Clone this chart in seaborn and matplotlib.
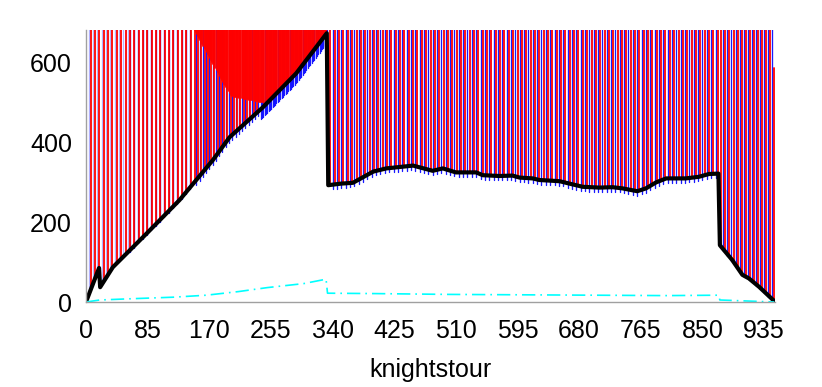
import numpy as np
import pandas as pd
import matplotlib
matplotlib.use("Agg")
import matplotlib.pyplot as plt
import seaborn as sns

# ---- data -------------------------------------------------------------
# lower envelope of the spikes (thick black line)
env_x = [0, 18, 19.5, 37, 84, 129, 175, 198, 244, 290, 332, 334, 352, 368,
         396, 414, 451, 478, 492, 510, 538, 547, 570, 588, 598, 616, 625, 653,
         671, 685, 708, 726, 740, 760, 772, 786, 800, 827, 845, 859, 872, 874,
         891, 905, 914, 928, 948]
env_y = [0, 85, 37, 87, 172, 255, 355, 412, 487, 572, 672, 292, 296, 298,
         326, 334, 341, 328, 334, 324, 324, 317, 315, 316, 311, 309, 305, 302,
         294, 288, 286, 287, 284, 277, 284, 299, 309, 309, 313, 320, 321, 142,
         105, 68, 59, 38, 4]

# lower edge of the dense (solid) red wedge before the drop at 334
wedge_x = [150, 165, 200, 250, 290, 332]
wedge_y = [680, 630, 515, 497, 572, 672]

# cyan dash-dot series
cyan_x = [0, 19, 60, 120, 166, 210, 250, 300, 331, 333, 400, 500, 600, 700,
          800, 872, 874, 949]
cyan_y = [0, 5, 8, 12, 17, 26, 36, 46, 57, 22, 21, 19, 18, 17, 16, 17, 5, 0]

# spike regions: (first x, last x, spacing between spikes)
red_regions = [(0.5, 150, 6.0), (150, 240, 4.5), (337, 874, 6.0),
               (876, 948, 5.6)]
blue_regions = [(60, 150, 6.0), (152.2, 240, 4.5), (241, 333, 1.8),
                (340, 874, 6.0), (878.8, 948, 5.6)]
blue_depth = [4, 12, 25, 11, 4]      # how far the blue spikes reach below the envelope
faint_blue_region = [(3.5, 60, 6.0)]  # pale blue strokes between the first red spikes
wedge_step = 1.5
spike_top = 1500                       # spikes leave the visible range
last_spike_x = 949
last_spike_top = 585

xticks = [0, 85, 170, 255, 340, 425, 510, 595, 680, 765, 850, 935]
yticks = [0, 200, 400, 600]
xlabel = "knightstour"


def spike_rows(regions, depths, lx, ly, uid=0):
    rows = []
    for (a, b, step), d in zip(regions, depths):
        xs = np.arange(a, b, step)
        lows = np.interp(xs, lx, ly) - d
        for x, lo in zip(xs, lows):
            rows.append((uid, x, max(lo, 0)))
            rows.append((uid, x, spike_top))
            uid += 1
    return rows, uid


cols = ["spike", "x", "y"]
rows, n = spike_rows(red_regions, [0] * len(red_regions), env_x, env_y)
wrows, n = spike_rows([(wedge_x[0], wedge_x[-1], wedge_step)], [0],
                      wedge_x, wedge_y, n)
rows += wrows
rows += [(n, last_spike_x, 0), (n, last_spike_x, last_spike_top)]
red_df = pd.DataFrame(rows, columns=cols)
brows, _ = spike_rows(blue_regions, blue_depth, env_x, env_y)
blue_df = pd.DataFrame(brows, columns=cols)
frows, _ = spike_rows(faint_blue_region, [0], env_x, env_y)
faint_df = pd.DataFrame(frows, columns=cols)

# ---- drawing ------------------------------------------------------------
sns.set_style("white")
plt.rcParams["font.family"] = ["Liberation Sans", "DejaVu Sans"]
plt.rcParams["text.color"] = "black"

fig = plt.figure(figsize=(8.22, 3.87), dpi=100)
ax = fig.add_axes([86 / 822, 85 / 387, 689 / 822, 272 / 387])

sns.lineplot(data=faint_df, x="x", y="y", units="spike", estimator=None,
             color="#0000ff", lw=0.95, alpha=0.3, ax=ax, legend=False)
sns.lineplot(data=blue_df, x="x", y="y", units="spike", estimator=None,
             color="#0000ff", lw=0.95, alpha=0.9, ax=ax, legend=False)
sns.lineplot(data=red_df, x="x", y="y", units="spike", estimator=None,
             color="#ff0000", lw=1.3, alpha=1.0, ax=ax, legend=False)
sns.lineplot(x=env_x, y=env_y, sort=False, estimator=None, color="black",
             lw=3.0, ax=ax, legend=False)
sns.lineplot(x=cyan_x, y=cyan_y, sort=False, estimator=None, color="#00ffff",
             lw=1.2, ax=ax, legend=False)
ax.lines[-1].set_linestyle((0, (8, 3, 1, 3)))

ax.set_xlim(0, 950)
ax.set_ylim(0, 680)
ax.set_xticks(xticks)
ax.set_yticks(yticks)
ax.tick_params(axis="both", direction="in", length=7, width=1,
               color="#a0a0a0", labelsize=18, labelcolor="black")
ax.tick_params(axis="x", pad=12)
ax.tick_params(axis="y", pad=10)
for s in ["top", "right"]:
    ax.spines[s].set_visible(False)
for s in ["left", "bottom"]:
    ax.spines[s].set_color("#a0a0a0")
    ax.spines[s].set_linewidth(1)
ax.set_xlabel(xlabel, fontsize=18, labelpad=11, color="black")
ax.set_ylabel("")

fig.savefig("out.png", dpi=100)
